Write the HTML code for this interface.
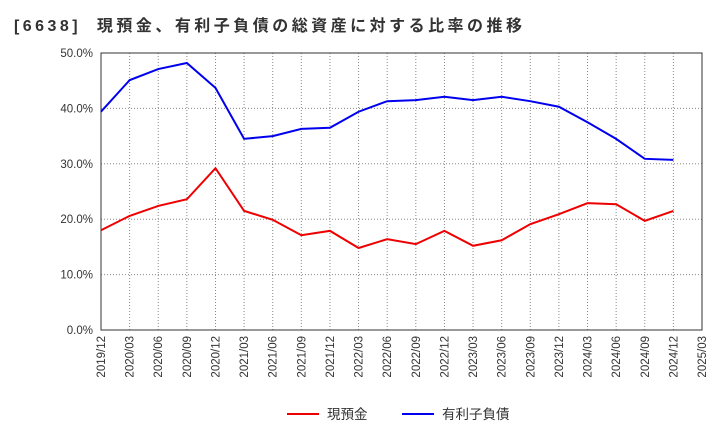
<!DOCTYPE html>
<html><head><meta charset="utf-8"><style>
body{margin:0;background:#fff;width:720px;height:440px;overflow:hidden;font-family:"Liberation Sans","Noto Sans CJK JP",sans-serif;}
</style></head><body>
<svg id="chart" width="720" height="440" xmlns="http://www.w3.org/2000/svg" font-family="Liberation Sans, Noto Sans CJK JP, sans-serif">
<text x="14" y="31" font-size="16" font-weight="bold" fill="#333" textLength="508" lengthAdjust="spacing" xml:space="preserve">[6638]  現預金、有利子負債の総資産に対する比率の推移</text>
<g id="grid"></g><g id="axes"></g><g id="series"></g>
<g>
<line x1="287" y1="414" x2="319" y2="414" stroke="#e00" stroke-width="2"/>
<text x="327" y="419" font-size="13.5" fill="#333">現預金</text>
<line x1="402" y1="414" x2="434" y2="414" stroke="#00e" stroke-width="2"/>
<text x="442" y="419" font-size="13.5" fill="#333">有利子負債</text>
</g>
</svg>
<script>
const categories=["2019/12","2020/03","2020/06","2020/09","2020/12","2021/03","2021/06","2021/09","2021/12","2022/03","2022/06","2022/09","2022/12","2023/03","2023/06","2023/09","2023/12","2024/03","2024/06","2024/09","2024/12","2025/03"];
const cashValues=[18.0,20.6,22.4,23.6,29.2,21.5,19.9,17.1,17.9,14.8,16.4,15.5,17.9,15.2,16.2,19.1,20.9,22.9,22.7,19.7,21.5];
const debtValues=[39.4,45.1,47.1,48.2,43.7,34.5,35.0,36.3,36.5,39.4,41.3,41.5,42.1,41.5,42.1,41.3,40.3,37.5,34.5,30.9,30.7];
const yTicks=[0,10,20,30,40,50];
const NS="http://www.w3.org/2000/svg";
const L=101,R=702,T=53,B=330;
const x=i=>L+i*(R-L)/(categories.length-1);
const y=v=>B-(v/50)*(B-T);
function mk(tag,attrs,parent){const e=document.createElementNS(NS,tag);for(const k in attrs)e.setAttribute(k,attrs[k]);parent.appendChild(e);return e;}
const grid=document.getElementById('grid'),axes=document.getElementById('axes'),series=document.getElementById('series');
categories.forEach((c,i)=>{
 const g=mk('line',{x1:x(i),x2:x(i),y1:T,y2:B,stroke:'#888','stroke-dasharray':'1,2','stroke-width':1},grid);
 
 
 const t=mk('text',{x:0,y:0,'font-size':11.5,fill:'#333','text-anchor':'end',transform:`translate(${x(i)+4},${B+6}) rotate(-90)`},axes);
 t.textContent=c;
 
 
});
yTicks.forEach(v=>{
 const g=mk('line',{x1:L,x2:R,y1:y(v),y2:y(v),stroke:'#888','stroke-dasharray':'1,2','stroke-width':1},grid);
 
 
 const t=mk('text',{x:L-8,y:y(v)+4,'font-size':11.5,fill:'#333','text-anchor':'end'},axes);
 t.textContent=v.toFixed(1)+'%';
 
 
});
const fr=mk('rect',{x:L,y:T,width:R-L,height:B-T,fill:'none',stroke:'#333','stroke-width':1},axes);


function line(vals,color,name){
 const p=mk('polyline',{points:vals.map((v,i)=>x(i)+','+y(v)).join(' '),fill:'none',stroke:color,'stroke-width':2},series);
 
 
}
line(cashValues,'#e00','cash-line');
line(debtValues,'#00e','debt-line');
</script>
</body></html>
